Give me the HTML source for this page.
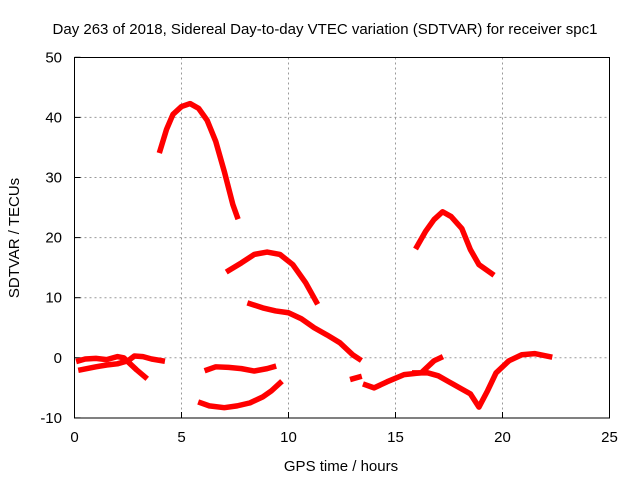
<!DOCTYPE html>
<html><head><meta charset="utf-8"><style>
body{margin:0;background:#fff}
svg text{font-family:"Liberation Sans",sans-serif;font-size:15px;fill:#000}
</style></head><body>
<svg id="chart" width="640" height="480">
<text x="325" y="34" text-anchor="middle">Day 263 of 2018, Sidereal Day-to-day VTEC variation (SDTVAR) for receiver spc1</text>
<text x="341" y="471" text-anchor="middle">GPS time / hours</text>
<text transform="translate(19,238) rotate(-90)" text-anchor="middle">SDTVAR / TECUs</text>
<g id="grid"></g><g id="series"></g>
<rect x="74.5" y="57.5" width="535" height="360.5" fill="none" stroke="#000" stroke-width="1"/>
</svg>
<script>
const xTicks=[0,5,10,15,20,25];
const yTicks=[-10,0,10,20,30,40,50];
const segA=[[0.2,-0.5],[0.5,-0.2],[1,-0.1],[1.5,-0.3],[2,0.2],[2.3,0],[2.6,-1],[2.9,-2],[3.3,-3.2]];
const segB=[[0.3,-2],[1,-1.5],[1.5,-1.2],[2,-1],[2.5,-0.5],[2.8,0.3],[3.2,0.2],[3.6,-0.2],[4.1,-0.5]];
const segC=[[6.2,-2],[6.6,-1.5],[7.2,-1.6],[7.8,-1.8],[8.4,-2.2],[9,-1.8],[9.3,-1.5]];
const segD=[[5.9,-7.5],[6.3,-8],[7,-8.3],[7.6,-8],[8.2,-7.5],[8.8,-6.5],[9.2,-5.5],[9.6,-4.2]];
const segE=[[4.0,34.5],[4.3,38],[4.6,40.5],[5,41.8],[5.4,42.3],[5.8,41.5],[6.2,39.5],[6.6,36],[7,31],[7.4,25.5],[7.6,23.5]];
const segF=[[7.2,14.5],[7.8,15.8],[8.4,17.2],[9,17.6],[9.6,17.2],[10.2,15.5],[10.8,12.5],[11.3,9.3]];
const segG=[[8.2,9],[8.8,8.3],[9.4,7.8],[10,7.5],[10.6,6.5],[11.2,5],[11.8,3.8],[12.4,2.5],[13,0.5],[13.3,-0.2]];
const segH=[[13.0,-3.5],[13.3,-3.2]];
const segI=[[13.6,-4.5],[14,-5],[14.6,-4],[15.4,-2.8],[16.2,-2.5],[16.8,-0.5],[17.1,0]];
const segJ=[[15.9,-2.5],[16.5,-2.5],[17,-3],[17.5,-4],[18,-5],[18.5,-6],[18.9,-8.2],[19.3,-5.5],[19.7,-2.5],[20.3,-0.5],[20.9,0.5],[21.5,0.7],[22.2,0.2]];
const segK=[[16.0,18.5],[16.4,21],[16.8,23],[17.2,24.3],[17.6,23.5],[18.1,21.5],[18.5,18],[18.9,15.5],[19.5,14]];
const segments=[segA,segB,segC,segD,segE,segF,segG,segH,segI,segJ,segK];
const NS="http://www.w3.org/2000/svg";
const X=t=>74.5+t*21.4, Y=v=>357.8-v*6.01;
const grid=document.getElementById('grid'), ser=document.getElementById('series');
function mk(tag,at,par){const e=document.createElementNS(NS,tag);for(const k in at)e.setAttribute(k,at[k]);par.appendChild(e);return e;}
xTicks.forEach(t=>{
  if(t>0&&t<25){const l=mk('line',{x1:X(t),x2:X(t),y1:57.5,y2:418,stroke:'#999','stroke-dasharray':'2,3'},grid);
  
  }
  const k=mk('line',{x1:X(t),x2:X(t),y1:418,y2:412,stroke:'#000'},grid);
  
  
  const tx=mk('text',{x:X(t),y:442,'text-anchor':'middle'},grid);tx.textContent=t;
  
  
});
yTicks.forEach(v=>{
  if(v>-10&&v<50){const l=mk('line',{x1:74.5,x2:609.5,y1:Y(v),y2:Y(v),stroke:'#999','stroke-dasharray':'2,3'},grid);
  
  }
  const k=mk('line',{x1:74.5,x2:80.5,y1:Y(v),y2:Y(v),stroke:'#000'},grid);
  
  
  const tx=mk('text',{x:62,y:Y(v)+5,'text-anchor':'end'},grid);tx.textContent=v;
  
  
});
segments.forEach(s=>{
  const p=mk('polyline',{points:s.map(d=>X(d[0])+','+Y(d[1])).join(' '),fill:'none',stroke:'#f00','stroke-width':5.5,'stroke-linejoin':'round','stroke-linecap':'square'},ser);
  
  
});
</script>
</body></html>
